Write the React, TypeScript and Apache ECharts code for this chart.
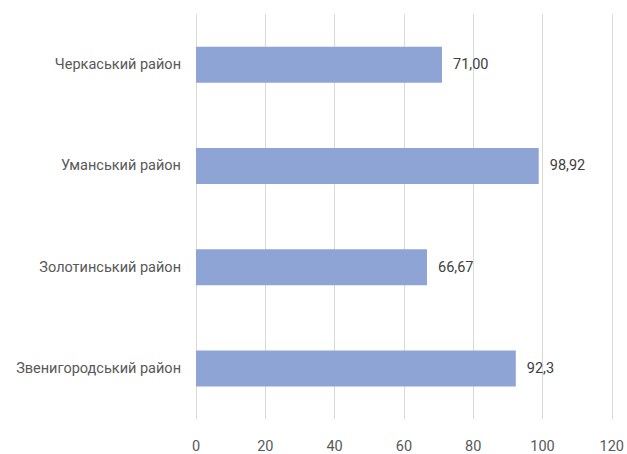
import React, { useEffect, useRef } from "react";
import * as echarts from "echarts";

const districts = [
  "Черкаський район",
  "Уманський район",
  "Золотинський район",
  "Звенигородський район",
];
const values = [71.0, 98.92, 66.67, 92.3];
const valueDecimals = [2, 2, 2, 1];
const xTicks = [0, 20, 40, 60, 80, 100, 120];

const FONT = "Roboto, 'Noto Sans', sans-serif";
const FONT_SIZE = 14.5;

export default function App() {
  const ref = useRef<HTMLDivElement>(null);

  useEffect(() => {
    if (!ref.current) return;
    const chart = echarts.init(ref.current, undefined, { renderer: "svg" });
    chart.setOption({
      animation: false,
      backgroundColor: "#ffffff",
      grid: { left: 196, right: 13, top: 14, bottom: 35, containLabel: false },
      xAxis: {
        type: "value",
        min: xTicks[0],
        max: xTicks[xTicks.length - 1],
        interval: xTicks[1] - xTicks[0],
        axisLine: { show: false },
        axisTick: { show: false },
        splitLine: { lineStyle: { color: "#d9d9d9", width: 1 } },
        axisLabel: {
          color: "#595959",
          fontFamily: FONT,
          fontSize: FONT_SIZE,
          lineHeight: 16,
          margin: 19,
        },
      },
      yAxis: {
        type: "category",
        data: districts,
        inverse: true,
        axisLine: { show: false },
        axisTick: { show: false },
        axisLabel: {
          color: "#595959",
          fontFamily: FONT,
          fontSize: FONT_SIZE,
          margin: 15,
        },
      },
      series: [
        {
          type: "bar",
          data: values,
          barWidth: 36,
          itemStyle: { color: "#8ea4d5" },
          label: {
            show: true,
            position: "right",
            distance: 11,
            color: "#404040",
            fontFamily: FONT,
            fontSize: FONT_SIZE,
            formatter: (p: any) =>
              Number(p.value).toFixed(valueDecimals[p.dataIndex]).replace(".", ","),
          },
        },
      ],
    });
    return () => chart.dispose();
  }, []);

  return (
    <div
      ref={ref}
      style={{ position: "fixed", left: 0, top: 0, width: 627, height: 454 }}
    />
  );
}
